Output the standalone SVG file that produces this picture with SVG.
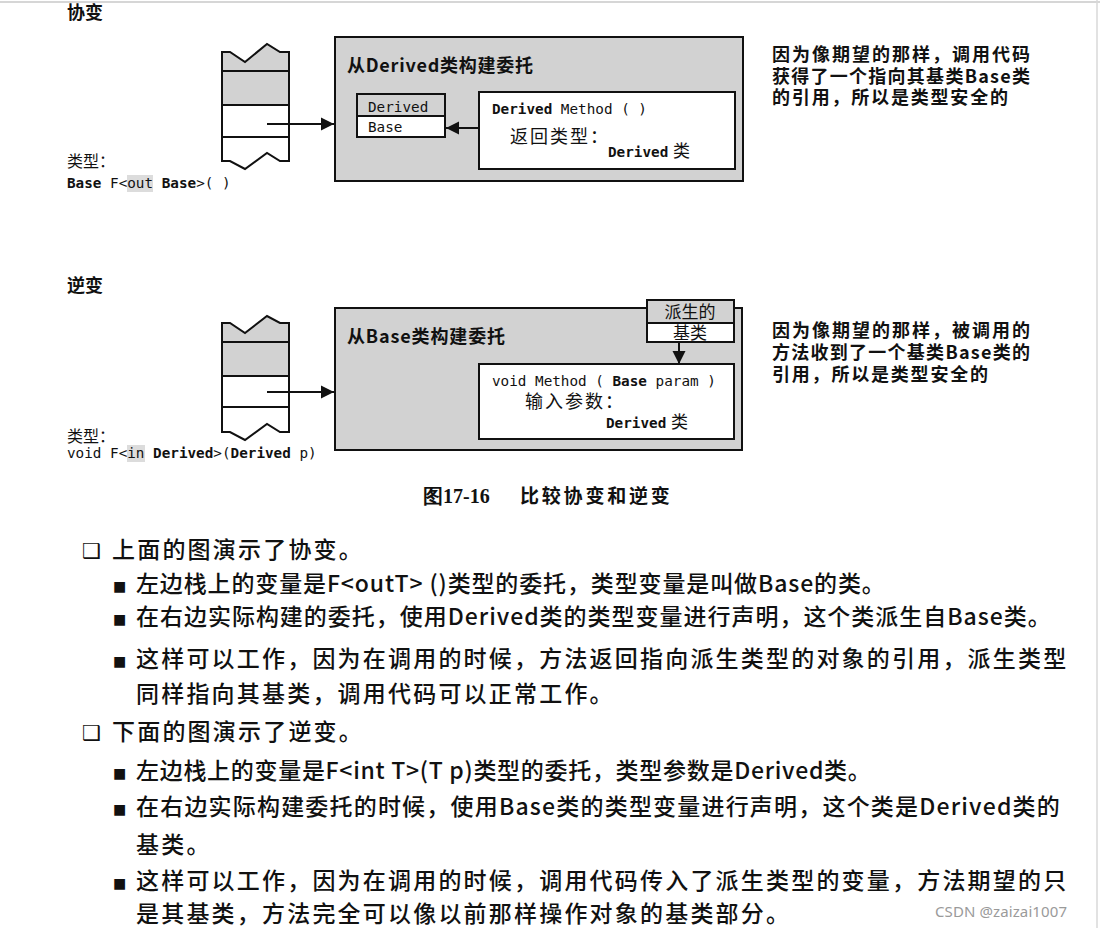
<svg xmlns="http://www.w3.org/2000/svg" width="1100" height="928" viewBox="0 0 1100 928">
<style>
.cjk{font-family:'Noto Sans CJK SC','Noto Sans',sans-serif;fill:#111}
.hd{font-size:18px;font-weight:bold}
.lbl{font-size:16px}
.ttl{font-size:18px;font-weight:bold}
.note{font-size:18px;font-weight:bold}
.mono{font-family:'DejaVu Sans Mono','Liberation Mono',monospace;font-size:14.3px;fill:#111}
.b{font-weight:bold}
.body{font-family:'Noto Sans CJK SC','Noto Sans',sans-serif;font-size:23px;font-weight:500;fill:#111;letter-spacing:2.2px}
.gray{fill:#d2d2d2}
.box{stroke:#111;stroke-width:2;fill:none}
.wbox{stroke:#111;stroke-width:2;fill:#fff}
.ln{stroke:#111;stroke-width:2;fill:none}
.hl{fill:#dcdcdc}
.sq{font-family:'DejaVu Sans',sans-serif;font-size:21px;fill:#111}
.bl{font-family:'DejaVu Sans',sans-serif;font-size:14px;fill:#111}
</style>
<defs>
<marker id="ah" viewBox="0 0 10 10" refX="10" refY="5" markerUnits="userSpaceOnUse" markerWidth="13" markerHeight="14" orient="auto">
<path d="M0,0 L10,5 L0,10 Z" fill="#111"/>
</marker>
</defs>
<rect x="0" y="0" width="1100" height="928" fill="#fff"/>
<line x1="0" y1="2" x2="1100" y2="2" stroke="#c8c8c8" stroke-width="1.5"/>
<line x1="1097" y1="0" x2="1097" y2="928" stroke="#d8d8d8" stroke-width="1.5"/>

<!-- covariance section -->
<text id="t-cov" class="cjk hd" x="67" y="19">协变</text>

<g id="stack1">
<path class="gray" d="M222,52 L230,52 L245,62 L267,44 L280,52 L289,52 L289,105 L222,105 Z"/>
<path class="ln" d="M222,52 L230,52 L245,62 L267,44 L280,52 L289,52 L289,161 L280,161 L267,153 L245,169 L230,161 L222,161 Z"/>
<line class="ln" x1="222" y1="71" x2="289" y2="71"/>
<line class="ln" x1="222" y1="105" x2="289" y2="105"/>
<line class="ln" x1="222" y1="137" x2="289" y2="137"/>
</g>

<g id="type1">
<text class="cjk lbl" x="67" y="167">类型：</text>
<rect class="hl" x="127" y="175" width="26" height="17"/>
<text class="mono" x="67" y="188"><tspan class="b">Base</tspan> F&lt;out <tspan class="b">Base</tspan>&gt;( )</text>
</g>

<g id="box1">
<rect x="335" y="37" width="408" height="144" fill="#d2d2d2" stroke="#111" stroke-width="2"/>
<text class="cjk ttl" x="347" y="72" textLength="186" lengthAdjust="spacing">从Derived类构建委托</text>
</g>

<g id="classbox1">
<rect class="gray" x="357" y="94" width="88" height="22"/>
<rect x="357" y="116" width="88" height="21" fill="#fff"/>
<rect class="box" x="357" y="94" width="88" height="43"/>
<line class="ln" x1="357" y1="116" x2="445" y2="116"/>
<text class="mono" x="368" y="112">Derived</text>
<text class="mono" x="368" y="132">Base</text>
</g>

<g id="method1">
<rect class="wbox" x="479" y="92" width="256" height="77"/>
<text class="mono" x="492" y="114"><tspan class="b">Derived</tspan> Method ( )</text>
<text class="cjk lbl" x="510" y="143" style="font-size:18px;letter-spacing:2px">返回类型：</text>
<text class="mono" x="608" y="157"><tspan class="b">Derived</tspan></text>
<text class="cjk lbl" x="673" y="157" style="font-size:17px">类</text>
</g>

<g id="note1">
<text class="cjk note" x="772" y="61" textLength="258" lengthAdjust="spacing">因为像期望的那样，调用代码</text>
<text class="cjk note" x="772" y="83" textLength="258" lengthAdjust="spacing">获得了一个指向其基类Base类</text>
<text class="cjk note" x="772" y="104" textLength="236" lengthAdjust="spacing">的引用，所以是类型安全的</text>
</g>

<!-- contravariance section -->
<text id="t-contra" class="cjk hd" x="67" y="292">逆变</text>

<g id="stack2">
<path class="gray" d="M222,323 L230,323 L245,333 L267,316 L280,323 L289,323 L289,376 L222,376 Z"/>
<path class="ln" d="M222,323 L230,323 L245,333 L267,316 L280,323 L289,323 L289,432 L280,432 L267,424 L245,440 L230,432 L222,432 Z"/>
<line class="ln" x1="222" y1="342" x2="289" y2="342"/>
<line class="ln" x1="222" y1="376" x2="289" y2="376"/>
<line class="ln" x1="222" y1="407" x2="289" y2="407"/>
</g>

<g id="type2">
<text class="cjk lbl" x="67" y="442">类型：</text>
<rect class="hl" x="127" y="445" width="18" height="17"/>
<text class="mono" x="67" y="458">void F&lt;in <tspan class="b">Derived</tspan>&gt;(<tspan class="b">Derived</tspan> p)</text>
</g>

<g id="box2">
<rect x="335" y="308" width="407" height="142" fill="#d2d2d2" stroke="#111" stroke-width="2"/>
<text class="cjk ttl" x="347" y="343" textLength="158" lengthAdjust="spacing">从Base类构建委托</text>
</g>

<g id="classbox2">
<rect class="gray" x="647" y="300" width="87" height="23"/>
<rect x="647" y="323" width="87" height="19" fill="#fff"/>
<rect class="box" x="647" y="300" width="87" height="42"/>
<line class="ln" x1="647" y1="323" x2="734" y2="323"/>
<text class="cjk lbl" x="690" y="318" text-anchor="middle" style="font-size:17px">派生的</text>
<text class="cjk lbl" x="690" y="339" text-anchor="middle" style="font-size:17px">基类</text>
</g>

<g id="method2">
<rect class="wbox" x="479" y="364" width="255" height="75"/>
<text class="mono" x="492" y="386">void Method ( <tspan class="b">Base</tspan> param )</text>
<text class="cjk lbl" x="525" y="408" style="font-size:18px;letter-spacing:2px">输入参数：</text>
<text class="mono" x="606" y="428"><tspan class="b">Derived</tspan></text>
<text class="cjk lbl" x="671" y="428" style="font-size:17px">类</text>
</g>

<g id="note2">
<text class="cjk note" x="772" y="337" textLength="258" lengthAdjust="spacing">因为像期望的那样，被调用的</text>
<text class="cjk note" x="772" y="359" textLength="258" lengthAdjust="spacing">方法收到了一个基类Base类的</text>
<text class="cjk note" x="772" y="381" textLength="216" lengthAdjust="spacing">引用，所以是类型安全的</text>
</g>

<g id="connectors">
<line class="ln" x1="267" y1="124" x2="334" y2="124" marker-end="url(#ah)"/>
<line class="ln" x1="479" y1="128" x2="446" y2="128" marker-end="url(#ah)"/>
<line class="ln" x1="267" y1="392" x2="334" y2="392" marker-end="url(#ah)"/>
<line class="ln" x1="679" y1="342" x2="679" y2="364" marker-end="url(#ah)"/>
</g>

<g id="caption">
<text x="423" y="503" style="font-family:'Liberation Serif',serif;font-size:20px;font-weight:bold;fill:#111">图17-16</text>
<text class="cjk" x="520" y="503" style="font-size:19px;font-weight:bold;letter-spacing:2.8px">比较协变和逆变</text>
</g>

<g id="bullets">
<text class="sq" x="82" y="558">❑</text>
<text class="body" x="112" y="558">上面的图演示了协变。</text>
<text class="bl" x="113" y="591">■</text>
<text class="body" x="136" y="592" textLength="751" lengthAdjust="spacing">左边栈上的变量是F&lt;outT&gt; ()类型的委托，类型变量是叫做Base的类。</text>
<text class="bl" x="113" y="624">■</text>
<text class="body" x="136" y="625" textLength="917" lengthAdjust="spacing">在右边实际构建的委托，使用Derived类的类型变量进行声明，这个类派生自Base类。</text>
<text class="bl" x="113" y="666">■</text>
<text class="body" x="136" y="667">这样可以工作，因为在调用的时候，方法返回指向派生类型的对象的引用，派生类型</text>
<text class="body" x="136" y="702">同样指向其基类，调用代码可以正常工作。</text>
<text class="sq" x="82" y="740">❑</text>
<text class="body" x="112" y="740">下面的图演示了逆变。</text>
<text class="bl" x="113" y="778">■</text>
<text class="body" x="136" y="779" textLength="737" lengthAdjust="spacing">左边栈上的变量是F&lt;int T&gt;(T p)类型的委托，类型参数是Derived类。</text>
<text class="bl" x="113" y="814">■</text>
<text class="body" x="136" y="815" textLength="926" lengthAdjust="spacing">在右边实际构建委托的时候，使用Base类的类型变量进行声明，这个类是Derived类的</text>
<text class="body" x="136" y="853">基类。</text>
<text class="bl" x="113" y="888">■</text>
<text class="body" x="136" y="889">这样可以工作，因为在调用的时候，调用代码传入了派生类型的变量，方法期望的只</text>
<text class="body" x="136" y="922">是其基类，方法完全可以像以前那样操作对象的基类部分。</text>
</g>

<text id="watermark" x="935" y="917" style="font-family:'Noto Sans','DejaVu Sans',sans-serif;font-size:15px;fill:#9a9a9a" textLength="132" lengthAdjust="spacing">CSDN @zaizai1007</text>
</svg>
